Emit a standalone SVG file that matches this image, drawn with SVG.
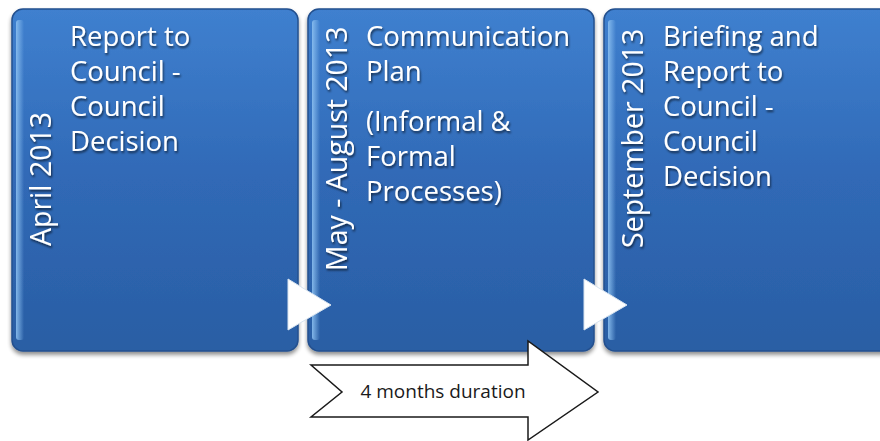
<svg xmlns="http://www.w3.org/2000/svg" width="880" height="441" viewBox="0 0 880 441">
<defs>
<linearGradient id="bg" x1="0" y1="0" x2="0" y2="1">
<stop offset="0" stop-color="#3f80cf"/>
<stop offset="0.5" stop-color="#3069b6"/>
<stop offset="1" stop-color="#2a5ea4"/>
</linearGradient>
<linearGradient id="edge" x1="0" y1="0" x2="1" y2="0">
<stop offset="0" stop-color="#8cc0f0" stop-opacity="0.9"/>
<stop offset="1" stop-color="#8cc0f0" stop-opacity="0"/>
</linearGradient>
<filter id="sh" x="-10%" y="-10%" width="120%" height="120%">
<feGaussianBlur in="SourceAlpha" stdDeviation="2"/>
<feOffset dx="0" dy="3" result="b"/>
<feComponentTransfer><feFuncA type="linear" slope="0.45"/></feComponentTransfer>
<feMerge><feMergeNode/><feMergeNode in="SourceGraphic"/></feMerge>
</filter>
<filter id="ts" x="-10%" y="-20%" width="130%" height="150%">
<feGaussianBlur in="SourceAlpha" stdDeviation="1"/>
<feOffset dx="1" dy="1.5" result="b"/>
<feComponentTransfer><feFuncA type="linear" slope="0.6"/></feComponentTransfer>
<feMerge><feMergeNode/><feMergeNode in="SourceGraphic"/></feMerge>
</filter>
</defs>
<style>
.box{fill:url(#bg);stroke:#24508e;stroke-width:1.5}
.hl{fill:url(#edge)}
.t{font-family:"Open Sans","Liberation Sans",sans-serif;font-size:27.5px;fill:#ffffff}
.d{font-family:"Open Sans","Liberation Sans",sans-serif;font-size:28.5px;fill:#ffffff}
.tri{fill:#ffffff;stroke:#d8e4f0;stroke-width:1}
.big{fill:#ffffff;stroke:#1a1a1a;stroke-width:1.5}
.lbl{font-family:"Open Sans","Liberation Sans",sans-serif;font-size:19px;fill:#1a1a1a}
</style>
<g id="node-april">
<rect class="box" x="12" y="9" width="286" height="342" rx="11" filter="url(#sh)"/>
<rect class="hl" x="16" y="20" width="8" height="320" rx="3"/>
<g filter="url(#ts)">
<text class="d" transform="translate(51,246) rotate(-90)">April 2013</text>
<text class="t" x="70" y="46">Report to</text>
<text class="t" x="70" y="81">Council -</text>
<text class="t" x="70" y="116">Council</text>
<text class="t" x="70" y="151">Decision</text>
</g>
</g>
<g id="node-may">
<rect class="box" x="308" y="9" width="286" height="342" rx="11" filter="url(#sh)"/>
<rect class="hl" x="312" y="20" width="8" height="320" rx="3"/>
<g filter="url(#ts)">
<text class="d" transform="translate(347,271) rotate(-90)">May - August 2013</text>
<text class="t" x="366" y="46">Communication</text>
<text class="t" x="366" y="81">Plan</text>
<text class="t" x="366" y="131">(Informal &amp;</text>
<text class="t" x="366" y="166">Formal</text>
<text class="t" x="366" y="201">Processes)</text>
</g>
</g>
<g id="node-september">
<rect class="box" x="604" y="9" width="290" height="342" rx="11" filter="url(#sh)"/>
<rect class="hl" x="608" y="20" width="8" height="320" rx="3"/>
<g filter="url(#ts)">
<text class="d" transform="translate(643,248) rotate(-90)">September 2013</text>
<text class="t" x="663" y="46">Briefing and</text>
<text class="t" x="663" y="81">Report to</text>
<text class="t" x="663" y="116">Council -</text>
<text class="t" x="663" y="151">Council</text>
<text class="t" x="663" y="186">Decision</text>
</g>
</g>
<g id="connectors">
<polygon class="tri" points="288,279 331,305 288,330"/>
<polygon class="tri" points="584,279 627,305 584,330"/>
</g>
<g id="node-duration">
<polygon class="big" points="311,365 528,365 528,341 598,392 528,440 528,417 311,417 342,392"/>
<text class="lbl" x="443" y="398" text-anchor="middle">4 months duration</text>
</g>
</svg>
